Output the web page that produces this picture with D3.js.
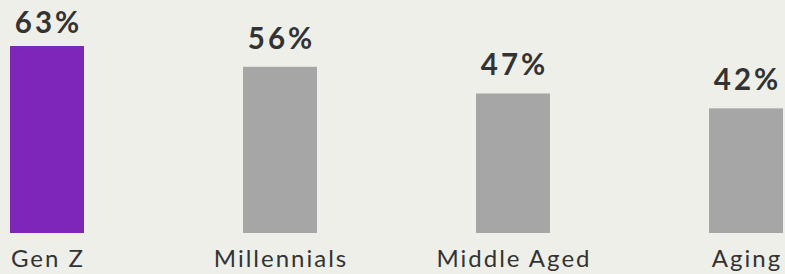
<!DOCTYPE html>
<html><head><meta charset="utf-8">
<script src="https://cdn.jsdelivr.net/npm/d3@7"></script>
<style>
html,body{margin:0;padding:0;background:#efefea;}
svg{display:block;}
</style></head>
<body>
<svg id="c" width="785" height="274"></svg>
<script>
const categories = ["Gen Z", "Millennials", "Middle Aged", "Aging"];
const values = [63, 56, 47, 42];
const highlight = ["Gen Z"];
const valueLabels = values.map(v => v + "%");

const W = 785, H = 274;
const svg = d3.select("#c");
svg.append("rect").attr("width", W).attr("height", H).attr("fill", "#efefea");

const x = d3.scaleBand().domain(categories).range([10, 783]).paddingInner(159 / 233).paddingOuter(0);
const y = d3.scaleLinear().domain([0, 63]).range([233, 46]);

const g = svg.append("g");
g.selectAll("rect.bar").data(categories).join("rect")
  .attr("class", "bar")
  .attr("x", d => x(d))
  .attr("width", x.bandwidth())
  .attr("y", (d, i) => y(values[i]))
  .attr("height", (d, i) => y(0) - y(values[i]))
  .attr("fill", d => highlight.includes(d) ? "#7d26b7" : "#a6a6a6");

g.selectAll("text.val").data(categories).join("text")
  .attr("class", "val")
  .attr("x", d => x(d) + x.bandwidth() / 2)
  .attr("dx", 1.5)
  .attr("y", (d, i) => Math.max(y(values[i]) - 18, 33))
  .attr("text-anchor", "middle")
  .attr("font-family", "Lato")
  .attr("font-weight", 700)
  .attr("font-size", 29.5)
  .attr("letter-spacing", 3)
  .attr("fill", "#333333")
  .text((d, i) => valueLabels[i]);

g.selectAll("text.cat").data(categories).join("text")
  .attr("class", "cat")
  .attr("x", d => x(d) + x.bandwidth() / 2)
  .attr("dx", 1)
  .attr("y", 267)
  .attr("text-anchor", "middle")
  .attr("font-family", "Lato")
  .attr("font-size", 24)
  .attr("letter-spacing", 2)
  .attr("fill", "#333333")
  .text(d => d);
</script>
</body></html>
